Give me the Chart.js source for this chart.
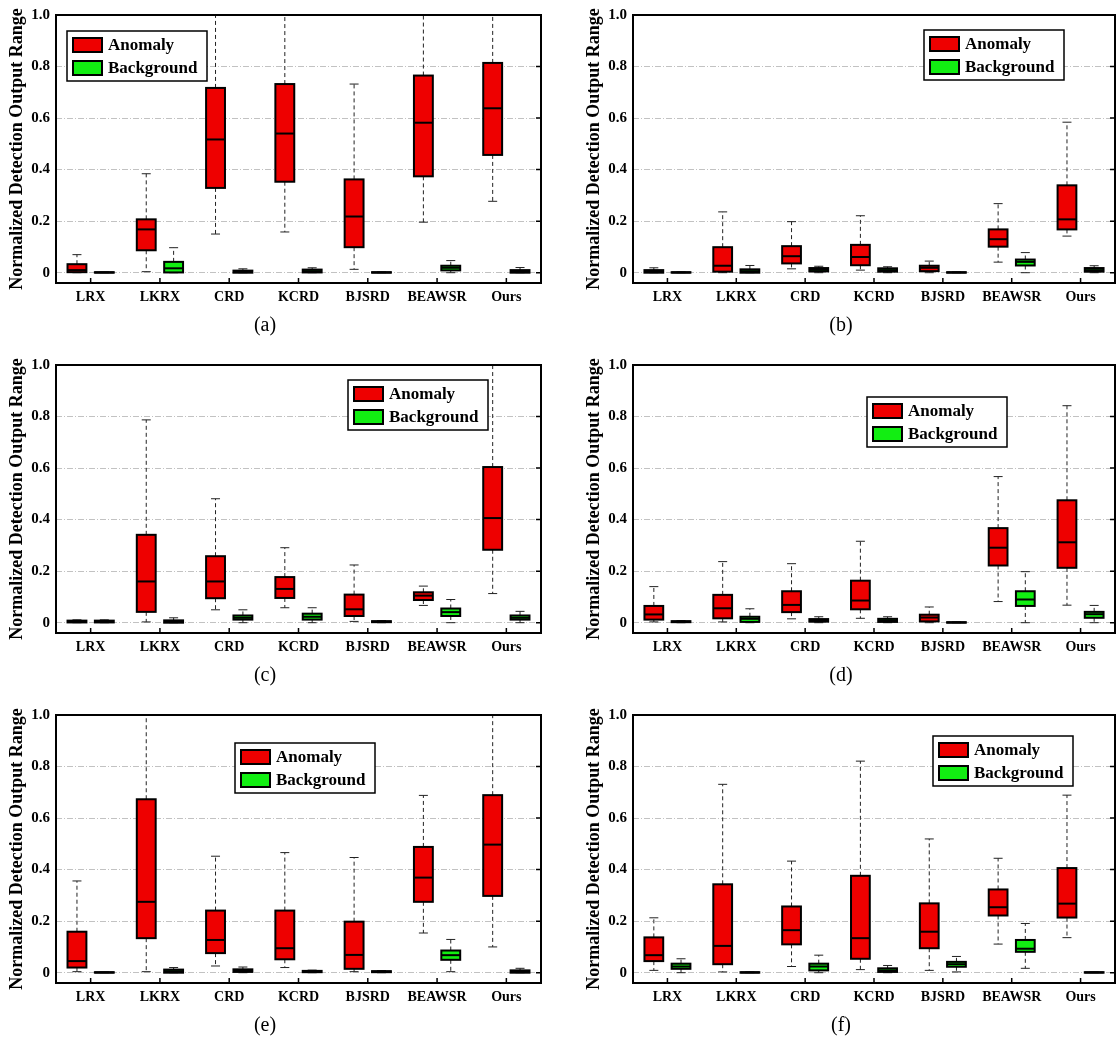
<!DOCTYPE html>
<html>
<head>
<meta charset="utf-8">
<script src="https://cdn.jsdelivr.net/npm/chart.js@4.4.1/dist/chart.umd.min.js"></script>
<style>
  html, body { margin: 0; padding: 0; background: #fff; }
  #figure { position: relative; width: 1116px; height: 1044px; overflow: hidden; }
  #figure canvas { position: absolute; }
</style>
</head>
<body>
<div id="figure">
  <canvas id="chartA" width="558" height="350" style="left:0;top:0"></canvas>
  <canvas id="chartB" width="558" height="350" style="left:558px;top:0"></canvas>
  <canvas id="chartC" width="558" height="350" style="left:0;top:350px"></canvas>
  <canvas id="chartD" width="558" height="350" style="left:558px;top:350px"></canvas>
  <canvas id="chartE" width="558" height="350" style="left:0;top:700px"></canvas>
  <canvas id="chartF" width="558" height="350" style="left:558px;top:700px"></canvas>
</div>
<script>
const methods = ['LRX', 'LKRX', 'CRD', 'KCRD', 'BJSRD', 'BEAWSR', 'Ours'];
const seriesNames = ['Anomaly', 'Background'];
const yTickValues = [0, 0.2, 0.4, 0.6, 0.8, 1.0];
const yTickLabels = ['0', '0.2', '0.4', '0.6', '0.8', '1.0'];

// box stats per method: [min, q1, median, q3, max]
const anomalyA = [
  [0, 0.002, 0.01, 0.033, 0.07],
  [0.004, 0.087, 0.168, 0.207, 0.384],
  [0.15, 0.329, 0.517, 0.717, 1.0],
  [0.158, 0.353, 0.54, 0.732, 1.0],
  [0.013, 0.099, 0.218, 0.362, 0.732],
  [0.196, 0.374, 0.582, 0.765, 1.0],
  [0.277, 0.457, 0.638, 0.814, 1.0]
];
const backgroundA = [
  [0, 0, 0.001, 0.002, 0.003],
  [0, 0.001, 0.017, 0.042, 0.097],
  [0, 0, 0.004, 0.008, 0.015],
  [0, 0.001, 0.006, 0.012, 0.019],
  [0, 0, 0.001, 0.002, 0.003],
  [0, 0.009, 0.019, 0.027, 0.047],
  [0, 0, 0.005, 0.01, 0.02]
];

const anomalyB = [
  [0, 0, 0.005, 0.01, 0.019],
  [0, 0.004, 0.027, 0.099, 0.236],
  [0.015, 0.036, 0.064, 0.103, 0.198],
  [0.01, 0.029, 0.061, 0.108, 0.221],
  [0, 0.006, 0.019, 0.027, 0.045],
  [0.041, 0.101, 0.13, 0.168, 0.268],
  [0.142, 0.168, 0.207, 0.339, 0.584]
];
const backgroundB = [
  [0, 0, 0.001, 0.002, 0.003],
  [0, 0, 0.006, 0.013, 0.028],
  [0, 0.005, 0.011, 0.018, 0.025],
  [0, 0.004, 0.01, 0.017, 0.023],
  [0, 0, 0.001, 0.002, 0.003],
  [0, 0.028, 0.042, 0.051, 0.078],
  [0, 0.004, 0.01, 0.018, 0.027]
];

const anomalyC = [
  [0, 0.001, 0.004, 0.008, 0.011],
  [0.003, 0.042, 0.16, 0.341, 0.787],
  [0.05, 0.095, 0.16, 0.258, 0.481],
  [0.058, 0.096, 0.131, 0.177, 0.291],
  [0.005, 0.026, 0.052, 0.109, 0.224],
  [0.067, 0.088, 0.105, 0.118, 0.142],
  [0.113, 0.283, 0.406, 0.604, 1.0]
];
const backgroundC = [
  [0, 0.001, 0.004, 0.008, 0.011],
  [0, 0, 0.004, 0.009, 0.019],
  [0, 0.012, 0.019, 0.028, 0.05],
  [0, 0.012, 0.023, 0.035, 0.058],
  [0, 0.002, 0.004, 0.006, 0.008],
  [0, 0.026, 0.041, 0.055, 0.09],
  [0, 0.012, 0.019, 0.028, 0.044]
];

const anomalyD = [
  [0.003, 0.012, 0.032, 0.065, 0.14],
  [0.003, 0.017, 0.056, 0.108, 0.237],
  [0.015, 0.041, 0.069, 0.122, 0.229],
  [0.017, 0.052, 0.086, 0.163, 0.316],
  [0, 0.005, 0.02, 0.031, 0.061],
  [0.082, 0.222, 0.291, 0.367, 0.567],
  [0.068, 0.213, 0.312, 0.475, 0.842]
];
const backgroundD = [
  [0, 0.002, 0.004, 0.006, 0.008],
  [0, 0.003, 0.015, 0.023, 0.054],
  [0, 0.004, 0.009, 0.014, 0.023],
  [0, 0.003, 0.009, 0.015, 0.023],
  [0, 0, 0.001, 0.002, 0.003],
  [0, 0.065, 0.09, 0.122, 0.198],
  [0, 0.019, 0.033, 0.042, 0.067]
];

const anomalyE = [
  [0.004, 0.02, 0.045, 0.159, 0.356],
  [0.004, 0.134, 0.275, 0.673, 1.0],
  [0.026, 0.076, 0.127, 0.241, 0.452],
  [0.02, 0.052, 0.095, 0.241, 0.466],
  [0.004, 0.015, 0.069, 0.198, 0.447],
  [0.154, 0.275, 0.369, 0.488, 0.688],
  [0.1, 0.298, 0.497, 0.689, 1.0]
];
const backgroundE = [
  [0, 0, 0.001, 0.002, 0.003],
  [0, 0, 0.006, 0.012, 0.02],
  [0, 0.003, 0.008, 0.013, 0.022],
  [0, 0.002, 0.005, 0.007, 0.01],
  [0, 0.002, 0.004, 0.006, 0.008],
  [0.004, 0.05, 0.068, 0.086, 0.129],
  [0, 0, 0.005, 0.009, 0.017]
];

const anomalyF = [
  [0.009, 0.045, 0.068, 0.137, 0.213],
  [0.003, 0.033, 0.104, 0.343, 0.731],
  [0.024, 0.11, 0.165, 0.257, 0.433],
  [0.012, 0.054, 0.134, 0.376, 0.821],
  [0.009, 0.095, 0.159, 0.269, 0.519],
  [0.111, 0.222, 0.254, 0.323, 0.444],
  [0.136, 0.214, 0.268, 0.406, 0.689]
];
const backgroundF = [
  [0, 0.015, 0.024, 0.035, 0.054],
  [0, 0, 0.001, 0.002, 0.003],
  [0, 0.009, 0.024, 0.035, 0.068],
  [0, 0.003, 0.009, 0.017, 0.028],
  [0.003, 0.023, 0.033, 0.042, 0.063],
  [0.017, 0.081, 0.093, 0.127, 0.191],
  [0, 0, 0.001, 0.002, 0.003]
];

const RED = '#ee0000';
const GREEN = '#12ee12';
const SERIF = 'Liberation Serif, Times New Roman, serif';

// whiskers, box outlines and medians on top of the floating bars
const boxExtras = {
  id: 'boxExtras',
  afterDatasetsDraw(chart) {
    const { ctx, chartArea: a, scales: { y } } = chart;
    ctx.save();
    ctx.beginPath();
    ctx.rect(a.left, a.top, a.width, a.height);
    ctx.clip();
    ctx.strokeStyle = '#000';
    chart.data.datasets.forEach((ds, i) => {
      chart.getDatasetMeta(i).data.forEach((bar, j) => {
        const [lo, q1, med, q3, hi] = ds.stats[j];
        const { x, width } = bar.getProps(['x', 'width'], true);
        const py = v => y.getPixelForValue(v);
        ctx.lineWidth = 1;
        ctx.strokeStyle = '#222';
        ctx.setLineDash([4, 3]);
        ctx.beginPath();
        ctx.moveTo(x, py(q3)); ctx.lineTo(x, py(hi));
        ctx.moveTo(x, py(q1)); ctx.lineTo(x, py(lo));
        ctx.stroke();
        ctx.setLineDash([]);
        ctx.beginPath();
        ctx.moveTo(x - 4.5, py(hi)); ctx.lineTo(x + 4.5, py(hi));
        ctx.moveTo(x - 4.5, py(lo)); ctx.lineTo(x + 4.5, py(lo));
        ctx.stroke();
        ctx.strokeStyle = '#000';
        ctx.lineWidth = 2;
        ctx.strokeRect(x - width / 2, py(q3), width, py(q1) - py(q3));
        ctx.beginPath();
        ctx.moveTo(x - width / 2, py(med)); ctx.lineTo(x + width / 2, py(med));
        ctx.stroke();
      });
    });
    ctx.restore();
  }
};

const frame = {
  id: 'frame',
  afterDraw(chart) {
    const { ctx, chartArea: a, scales: { x, y } } = chart;
    ctx.save();
    ctx.strokeStyle = '#000';
    ctx.lineWidth = 2;
    ctx.strokeRect(a.left, a.top, a.width, a.height);
    ctx.lineWidth = 1.5;
    ctx.beginPath();
    y.ticks.forEach(t => {
      const py = y.getPixelForValue(t.value);
      ctx.moveTo(a.right, py); ctx.lineTo(a.right - 5, py);
    });
    x.ticks.forEach((t, i) => {
      const px = x.getPixelForTick(i);
      ctx.moveTo(px, a.bottom); ctx.lineTo(px, a.bottom - 5);
    });
    ctx.stroke();
    ctx.restore();
  }
};

const boxLegend = {
  id: 'boxLegend',
  afterDraw(chart, args, opts) {
    const { ctx, chartArea: a } = chart;
    const left = a.left + opts.x, top = a.top + opts.y;
    ctx.save();
    ctx.fillStyle = '#fff';
    ctx.fillRect(left, top, 140, 50);
    ctx.strokeStyle = '#000';
    ctx.lineWidth = 1.5;
    ctx.strokeRect(left, top, 140, 50);
    ctx.font = 'bold 17px ' + SERIF;
    ctx.textBaseline = 'middle';
    chart.data.datasets.forEach((ds, i) => {
      const rowY = top + 7 + i * 23;
      ctx.fillStyle = ds.backgroundColor;
      ctx.fillRect(left + 6, rowY, 29, 14);
      ctx.lineWidth = 2;
      ctx.strokeRect(left + 6, rowY, 29, 14);
      ctx.fillStyle = '#000';
      ctx.fillText(ds.label, left + 41, rowY + 8);
    });
    ctx.restore();
  }
};

const caption = {
  id: 'caption',
  afterDraw(chart, args, opts) {
    const { ctx } = chart;
    ctx.save();
    ctx.font = '20px ' + SERIF;
    ctx.fillStyle = '#000';
    ctx.textAlign = 'center';
    ctx.textBaseline = 'middle';
    ctx.fillText(opts.text, opts.x, 326);
    ctx.restore();
  }
};

function makePanel(id, anomaly, background, col, label, legendAt) {
  const datasets = [anomaly, background].map((stats, k) => ({
    label: seriesNames[k],
    data: stats.map(s => [s[1], s[3]]),
    stats: stats,
    backgroundColor: k === 0 ? RED : GREEN,
    borderWidth: 0,
    categoryPercentage: 0.79,
    barPercentage: 0.69
  }));

  new Chart(document.getElementById(id), {
    type: 'bar',
    data: { labels: methods, datasets: datasets },
    options: {
      responsive: false,
      animation: false,
      layout: { padding: { left: col ? 19 : 0, right: col ? 1 : 17, top: 11, bottom: 0 } },
      plugins: {
        legend: { display: false },
        tooltip: { enabled: false },
        boxLegend: { x: legendAt[0], y: legendAt[1] },
        caption: { text: label, x: col ? 283 : 265 }
      },
      scales: {
        x: {
          afterFit: s => { s.height = 67; },
          grid: { display: false, drawTicks: false },
          border: { display: false },
          ticks: {
            color: '#000',
            padding: 6,
            maxRotation: 0,
            autoSkip: false,
            font: { family: SERIF, weight: 'bold', size: 14 }
          }
        },
        y: {
          min: -0.04,
          max: 1.0,
          afterBuildTicks: s => { s.ticks = yTickValues.map(v => ({ value: v })); },
          afterFit: s => { s.width = 56; },
          grid: {
            drawTicks: false,
            lineWidth: 1,
            color: c => (c.tick && c.tick.value >= 1 ? 'rgba(0,0,0,0)' : '#c2c2c2')
          },
          border: { display: false, dash: [6, 2, 1, 2] },
          ticks: {
            color: '#000',
            padding: 6,
            callback: (v, i) => yTickLabels[i],
            font: { family: SERIF, weight: 'bold', size: 15 }
          },
          title: {
            display: true,
            text: 'Normalized Detection Output Range',
            color: '#000',
            padding: { top: 7, bottom: 0 },
            font: { family: SERIF, weight: 'bold', size: 18 }
          }
        }
      }
    },
    plugins: [boxExtras, frame, boxLegend, caption]
  });
}

makePanel('chartA', anomalyA, backgroundA, 0, '(a)', [11, 16]);
makePanel('chartB', anomalyB, backgroundB, 1, '(b)', [291, 15]);
makePanel('chartC', anomalyC, backgroundC, 0, '(c)', [292, 15]);
makePanel('chartD', anomalyD, backgroundD, 1, '(d)', [234, 32]);
makePanel('chartE', anomalyE, backgroundE, 0, '(e)', [179, 28]);
makePanel('chartF', anomalyF, backgroundF, 1, '(f)', [300, 21]);
</script>
</body>
</html>
